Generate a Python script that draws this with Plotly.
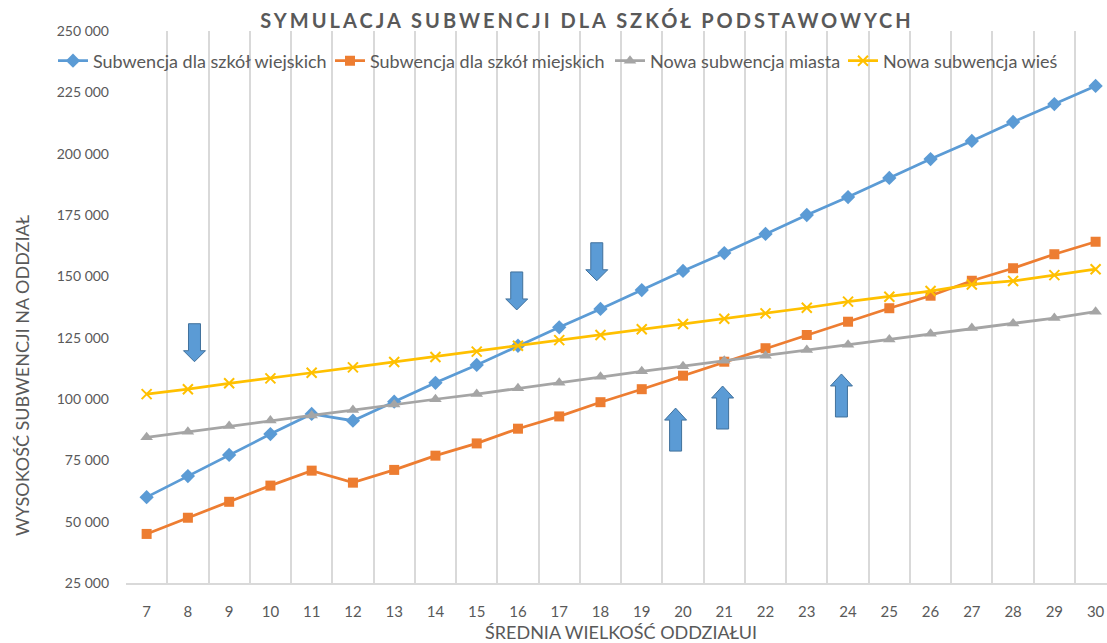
import plotly.graph_objects as go

# ---- data ----
categories = [str(v) for v in range(7, 31)]

sub_wiejskie = [60000, 68600, 77200, 85700, 93900, 91150, 98900, 106600, 113900, 121700,
                129200, 136700, 144400, 152200, 159500, 167300, 175000, 182300, 190100,
                197800, 205200, 212900, 220200, 227600]
sub_miejskie = [45000, 51600, 58100, 64700, 70800, 65900, 71100, 76900, 81900, 87900,
                92900, 98700, 104000, 109500, 115200, 120700, 126100, 131500, 137000,
                142100, 148200, 153300, 159000, 164100]
nowa_miasta = [84400, 86700, 89000, 91200, 93300, 95500, 97800, 99900, 102000, 104400,
               106600, 109100, 111300, 113400, 115600, 117600, 120000, 122100, 124300,
               126600, 128900, 130800, 133000, 135600]
nowa_wies = [102000, 104000, 106400, 108400, 110700, 112900, 115100, 117100, 119300, 121700,
             124000, 126100, 128400, 130600, 132700, 134900, 137200, 139700, 141700,
             144000, 146700, 148100, 150500, 152900]

series_names = ["Subwencja dla szkół wiejskich", "Subwencja dla szkół miejskich",
                "Nowa subwencja miasta", "Nowa subwencja wieś"]

# decorative block arrows: (category index position, tip value, direction)
arrow_x = [1.16, 8.97, 10.91, 12.82, 13.96, 16.84]
arrow_tip = [115200, 136300, 148200, 96300, 105300, 110200]
arrow_dir = ["down", "down", "down", "up", "up", "up"]

y_ticks = list(range(25000, 250001, 25000))

# ---- styling ----
FONT = "Lato, 'Noto Sans', sans-serif"
TXT = "#595959"
GRID = "#D9D9D9"
W, H = 1107, 643
ML, MR, MT, MB = 126, 0, 31, 60
plot_w = W - ML - MR
plot_h = H - MT - MB
cat_px = 41.26

styles = [
    dict(color="#5B9BD5", symbol="diamond", size=11),
    dict(color="#ED7D31", symbol="square", size=10),
    dict(color="#A5A5A5", symbol="triangle-up", size=11),
    dict(color="#FFC000", symbol="x-thin", size=10),
]
legend_ids = ["legend", "legend2", "legend3", "legend4"]
legend_px = [53, 330, 610, 843]

fig = go.Figure()
for name, vals, st, lid in zip(series_names, [sub_wiejskie, sub_miejskie, nowa_miasta, nowa_wies],
                               styles, legend_ids):
    marker = dict(symbol=st["symbol"], size=st["size"], color=st["color"])
    if st["symbol"] == "x-thin":
        marker["line"] = dict(color=st["color"], width=2)
    fig.add_trace(go.Scatter(
        x=categories, y=vals, name=name, mode="lines+markers",
        line=dict(color=st["color"], width=2.75),
        marker=marker, legend=lid,
    ))

# arrows
for ax_, tip, d in zip(arrow_x, arrow_tip, arrow_dir):
    if d == "down":
        path = "M -6,38 L 6,38 L 6,11 L 11,11 L 0,0 L -11,11 L -6,11 Z"
    else:
        path = "M -6,-43 L 6,-43 L 6,-12 L 11,-12 L 0,0 L -11,-12 L -6,-12 Z"
    fig.add_shape(type="path", path=path, xref="x", yref="y",
                  xsizemode="pixel", ysizemode="pixel", xanchor=ax_, yanchor=tip,
                  fillcolor="#5B9BD5", line=dict(color="#41719C", width=1), layer="above")

x_end = -0.5 + plot_w / cat_px

legends = {}
for lid, px in zip(legend_ids, legend_px):
    legends[lid] = dict(orientation="h", xref="container", x=px / W, xanchor="left",
                        yref="container", y=1 - 61 / H, yanchor="middle",
                        bgcolor="rgba(0,0,0,0)", font=dict(size=18, color=TXT, family=FONT),
                        itemwidth=30)

fig.update_layout(
    width=W, height=H,
    margin=dict(l=ML, r=MR, t=MT, b=MB, pad=0, autoexpand=False),
    paper_bgcolor="white", plot_bgcolor="white",
    separators=", ",
    font=dict(family=FONT, color=TXT, size=14),
    title=dict(text="<b>SYMULACJA SUBWENCJI DLA SZKÓŁ PODSTAWOWYCH</b>",
               x=587 / W, xref="container", xanchor="center",
               y=1 - 21 / H, yref="container", yanchor="middle",
               font=dict(family=FONT, size=20, color=TXT)),
    showlegend=True,
    xaxis=dict(type="category", range=[-0.5, x_end], tickson="boundaries",
               showgrid=True, gridcolor=GRID, gridwidth=1.5,
               showline=True, linecolor=GRID, linewidth=1.5,
               ticks="", ticklabelstandoff=14,
               tickfont=dict(size=15, color=TXT), zeroline=False),
    yaxis=dict(range=[25000, 250000], tickvals=y_ticks, tickformat=",d",
               showgrid=False, zeroline=False, showline=False,
               ticks="", ticklabelstandoff=16,
               tickfont=dict(size=14, color=TXT)),
    annotations=[
        dict(text="WYSOKOŚĆ SUBWENCJI NA ODDZIAŁ", textangle=-90,
             xref="paper", yref="paper",
             x=(22 - ML) / plot_w, y=(583 - 375) / plot_h,
             xanchor="center", yanchor="middle", showarrow=False,
             font=dict(size=18, color=TXT, family=FONT)),
        dict(text="ŚREDNIA WIELKOŚĆ ODDZIAŁUI",
             xref="paper", yref="paper",
             x=(621 - ML) / plot_w, y=-(632 - 583) / plot_h,
             xanchor="center", yanchor="middle", showarrow=False,
             font=dict(size=18, color=TXT, family=FONT)),
    ],
    **legends,
)

post = """
document.body.style.margin='0';
document.body.style.overflow='hidden';
var t=document.querySelector('.gtitle'); if(t){t.style.letterSpacing='3px';}
"""
fig.write_html("out.html", post_script=post, config={"displayModeBar": False})
